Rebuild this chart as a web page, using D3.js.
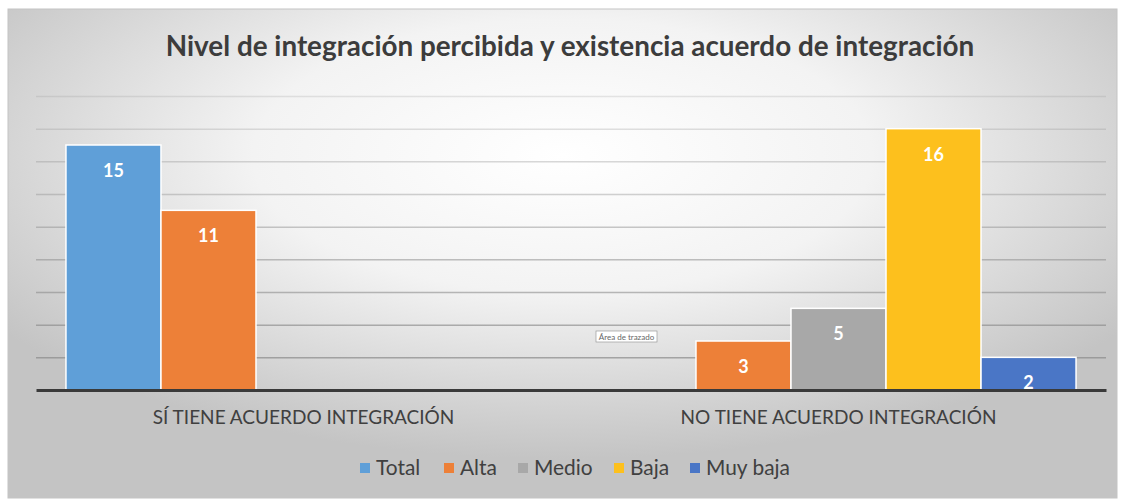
<!DOCTYPE html>
<html>
<head>
<meta charset="utf-8">
<script src="https://cdn.jsdelivr.net/npm/d3@7"></script>
<style>
  body { margin: 0; background: #fff; }
  svg { display: block; font-family: Lato, "Open Sans", sans-serif; }
</style>
</head>
<body>
<svg id="chart" width="1121" height="499"></svg>
<script>
const title = "Nivel de integración percibida y existencia acuerdo de integración";
const categories = ["SÍ TIENE ACUERDO INTEGRACIÓN", "NO TIENE ACUERDO INTEGRACIÓN"];
const seriesNames = ["Total", "Alta", "Medio", "Baja", "Muy baja"];
const seriesColors = ["#5f9fd8", "#ed8038", "#a8a8a8", "#fdc01d", "#4a76c6"];
// null = no bar in that slot
const siValues = [15, 11, null, null, null];
const noValues = [null, 3, 5, 16, 2];
const yTicks = [2, 4, 6, 8, 10, 12, 14, 16, 18];

const values = [siValues, noValues];

const svg = d3.select("#chart");
const defs = svg.append("defs");

const bg = defs.append("radialGradient").attr("id", "bg")
  .attr("cx", "50%").attr("cy", "30%").attr("r", "62%")
  .attr("gradientUnits", "objectBoundingBox");
bg.append("stop").attr("offset", "0%").attr("stop-color", "#ffffff");
bg.append("stop").attr("offset", "45%").attr("stop-color", "#f3f3f3");
bg.append("stop").attr("offset", "100%").attr("stop-color", "#c4c4c4");

svg.append("rect")
  .attr("x", 8).attr("y", 9).attr("width", 1109).attr("height", 489)
  .attr("fill", "url(#bg)")
  .attr("stroke", "#c4c4c4").attr("stroke-width", 1);

const margin = {left: 36, right: 1106, top: 96, bottom: 390};

const x0 = d3.scaleBand()
  .domain(categories)
  .range([margin.left, margin.right])
  .paddingInner(0.112)
  .paddingOuter(0.056);

const x1 = d3.scaleBand()
  .domain(seriesNames)
  .range([0, x0.bandwidth()]);

const y = d3.scaleLinear().domain([0, 18]).range([margin.bottom, margin.top]);

// gridlines
const grid = svg.append("g")
  .attr("transform", `translate(${margin.left},0)`)
  .call(d3.axisLeft(y).tickValues(yTicks).tickSize(-(margin.right - margin.left)).tickFormat(""));
grid.select(".domain").remove();
grid.selectAll(".tick line")
  .attr("stroke", "#8c8c8c")
  .attr("stroke-width", 1.5)
  .attr("stroke-opacity", d => 0.8 - d * 0.033);

// title
svg.append("text")
  .attr("x", 570).attr("y", 56)
  .attr("text-anchor", "middle")
  .attr("font-weight", 700)
  .attr("font-size", 26)
  .attr("fill", "#3c3c3c")
  .text(title)
  .call(fitWidth, 809);

// bars
const groups = svg.selectAll("g.cat")
  .data(categories)
  .join("g")
  .attr("class", "cat")
  .attr("transform", d => `translate(${x0(d)},0)`);

const barData = (c, i) => seriesNames.map((s, j) => ({s, j, v: values[i][j]})).filter(d => d.v != null);

groups.selectAll("rect")
  .data(barData)
  .join("rect")
  .attr("x", d => x1(d.s))
  .attr("y", d => y(d.v))
  .attr("width", x1.bandwidth())
  .attr("height", d => y(0) - y(d.v))
  .attr("fill", d => seriesColors[d.j])
  .attr("stroke", "#ffffff")
  .attr("stroke-width", 1.5);

groups.selectAll("text.lbl")
  .data(barData)
  .join("text")
  .attr("class", "lbl")
  .attr("x", d => x1(d.s) + x1.bandwidth() / 2)
  .attr("y", d => y(d.v) + 32)
  .attr("text-anchor", "middle")
  .attr("font-weight", 700)
  .attr("font-size", 18)
  .attr("fill", "#ffffff")
  .text(d => d.v);

// baseline axis
const xAxis = svg.append("g")
  .attr("transform", `translate(0,${y(0)})`)
  .call(d3.axisBottom(x0).tickSize(0).tickPadding(20));
xAxis.select(".domain")
  .attr("stroke", "#3a3a3a")
  .attr("stroke-width", 3);
xAxis.selectAll(".tick text")
  .attr("font-family", "Lato, 'Open Sans', sans-serif")
  .attr("font-size", 18)
  .attr("fill", "#404040")
  .each(function(d, i) { d3.select(this).call(fitWidth, [302, 316][i]); });

// "Área de trazado" hover box
const tip = svg.append("g").attr("transform", "translate(596,331)");
tip.append("rect").attr("width", 61).attr("height", 11)
  .attr("fill", "#ffffff").attr("stroke", "#9a9a9a").attr("stroke-width", 0.7);
tip.append("text").attr("x", 30.5).attr("y", 8.5).attr("text-anchor", "middle")
  .attr("font-size", 8).attr("fill", "#666").text("Área de trazado");

// legend
const legendX = [360, 444, 518, 614, 690];
const legend = svg.append("g");
const li = legend.selectAll("g").data(seriesNames).join("g")
  .attr("transform", (d, i) => `translate(${legendX[i]},463)`);
li.append("rect").attr("width", 10).attr("height", 10)
  .attr("fill", (d, i) => seriesColors[i]);
const legText = li.append("text").attr("x", 16).attr("y", 11.5)
  .attr("font-size", 19).attr("fill", "#404040").text(d => d);
// size legend text so "Muy baja" matches the reference width
const probe = legText.filter(d => d === "Muy baja");
const lw = probe.node().getComputedTextLength();
legText.attr("font-size", 19 * 84 / lw);

function fitWidth(sel, target) {
  const node = sel.node();
  const w = node.getComputedTextLength();
  const fs = parseFloat(sel.attr("font-size"));
  if (w > 0) sel.attr("font-size", fs * target / w);
}
</script>
</body>
</html>
